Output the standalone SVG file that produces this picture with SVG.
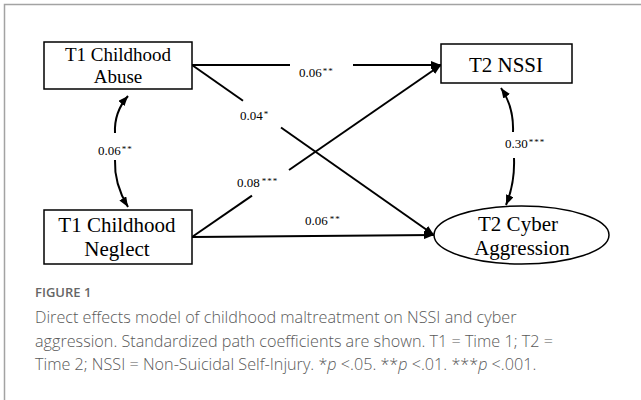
<svg xmlns="http://www.w3.org/2000/svg" width="641" height="400" viewBox="0 0 641 400">
<defs>
<marker id="ah" markerUnits="userSpaceOnUse" markerWidth="10" markerHeight="8" refX="10" refY="4" orient="auto"><path d="M0,0 L10,4 L0,8 z" fill="#000"/></marker>
<style>
.box{fill:#fff;stroke:#000;stroke-width:1.5}
.nt{font-family:"Liberation Serif","Times New Roman",serif;fill:#000;text-anchor:middle}
.ln{fill:none;stroke:#000;stroke-width:2}
.lb{font-family:"Liberation Serif","Times New Roman",serif;font-size:13px;fill:#000}
.st{font-size:9px;letter-spacing:1px}
.cap{font-family:"Open Sans","Liberation Sans",sans-serif;font-size:16.2px;font-weight:300;fill:#595959}
.fig{font-family:"Open Sans","Liberation Sans",sans-serif;font-size:13px;font-weight:600;fill:#666}
</style>
</defs>
<rect width="641" height="400" fill="#fff"/>
<path d="M4.5,400 V4.5 H641" fill="none" stroke="#a3a3a3" stroke-width="1.5"/>
<g id="connectors">
<path class="ln" d="M192,65 H290"/>
<path class="ln" d="M353,65 L441,65" marker-end="url(#ah)"/>
<path class="ln" d="M192,65 L243,100.8"/>
<path class="ln" d="M281,127.5 L434,235" marker-end="url(#ah)"/>
<path class="ln" d="M192,237 L252,195.6"/>
<path class="ln" d="M289,170 L441,65" marker-end="url(#ah)"/>
<path class="ln" d="M192,237 L434,235" marker-end="url(#ah)"/>
<path class="ln" d="M115,133 Q114,112 128,96" marker-end="url(#ah)"/>
<path class="ln" d="M115,160 Q114,184 128,207" marker-end="url(#ah)"/>
<path class="ln" d="M513,132 Q514,107 501,88" marker-end="url(#ah)"/>
<path class="ln" d="M514,158 Q515,183 506,205" marker-end="url(#ah)"/>
<text class="lb" x="299" y="77">0.06<tspan class="st" dx="1" dy="-3">**</tspan></text>
<text class="lb" x="240" y="120">0.04<tspan class="st" dx="1" dy="-3">*</tspan></text>
<text class="lb" x="237" y="187">0.08<tspan class="st" dx="2" dy="-3">***</tspan></text>
<text class="lb" x="305" y="225">0.06<tspan class="st" dx="2" dy="-3">**</tspan></text>
<text class="lb" x="98" y="155">0.06<tspan class="st" dx="1" dy="-3">**</tspan></text>
<text class="lb" x="505" y="148">0.30<tspan class="st" dx="1" dy="-3">***</tspan></text>
</g>
<g id="abuse">
<rect class="box" x="44" y="42" width="148" height="47"/>
<text class="nt" x="118" y="61" font-size="19">T1 Childhood</text>
<text class="nt" x="118" y="83" font-size="19">Abuse</text>
</g>
<g id="neglect">
<rect class="box" x="44" y="210" width="148" height="54"/>
<text class="nt" x="117" y="232" font-size="21">T1 Childhood</text>
<text class="nt" x="117" y="256" font-size="21">Neglect</text>
</g>
<g id="nssi">
<rect class="box" x="441" y="44" width="131" height="39"/>
<text class="nt" x="506" y="72" font-size="21">T2 NSSI</text>
</g>
<g id="cyber">
<ellipse class="box" cx="521.5" cy="235" rx="87.5" ry="29"/>
<text class="nt" x="518" y="231" font-size="21">T2 Cyber</text>
<text class="nt" x="522" y="255" font-size="21">Aggression</text>
</g>
<g id="caption">
<text class="fig" x="35" y="297">FIGURE 1</text>
<text class="cap" x="35" y="323">Direct effects model of childhood maltreatment on NSSI and cyber</text>
<text class="cap" x="35" y="347">aggression. Standardized path coefficients are shown. T1 = Time 1; T2 =</text>
<text class="cap" x="35" y="370">Time 2; NSSI = Non-Suicidal Self-Injury. *<tspan font-style="italic">p</tspan> &lt;.05. **<tspan font-style="italic">p</tspan> &lt;.01. ***<tspan font-style="italic">p</tspan> &lt;.001.</text>
</g>
</svg>
